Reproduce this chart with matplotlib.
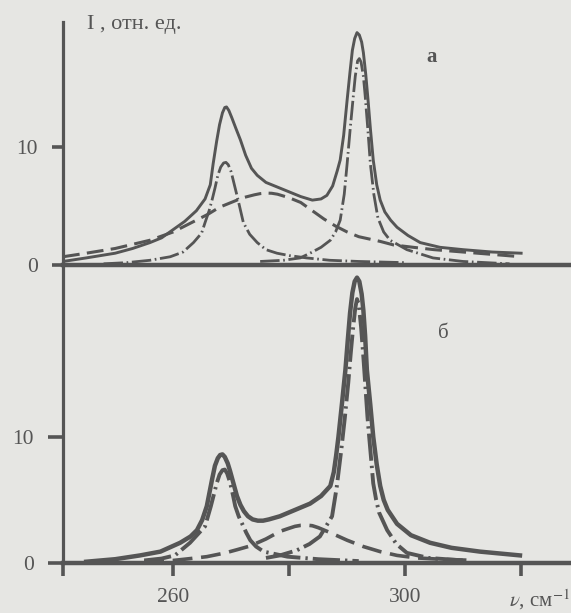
import matplotlib
matplotlib.use("Agg")
import matplotlib.pyplot as plt

plt.rcParams['font.family'] = ['Liberation Serif', 'DejaVu Serif']
plt.rcParams['mathtext.fontset'] = 'stix'

PAPER = '#e6e6e3'
INK = '#555555'

# ---------------- panel "а" ----------------
a_sum_x = [241.0, 245, 250, 253, 256, 258, 260, 262, 264, 265.5, 266.4, 266.9, 267.5,
           268.0, 268.5, 268.9, 269.2, 269.6, 270.1, 270.8, 271.6, 272.5, 273.5,
           274.5, 276, 278, 280, 282, 284, 285.5, 286.5, 287.5, 288.3, 288.8, 289.4,
           290, 290.5, 290.9, 291.3, 291.7, 292.1, 292.5, 292.8, 293.2, 293.6, 294.0,
           294.5, 295.1, 295.7, 296.5, 297.5, 298.6, 300.5, 302.6, 306, 310, 315, 320]
a_sum_y = [0.3, 0.6, 1.0, 1.4, 1.9, 2.3, 3.0, 3.7, 4.6, 5.6, 6.8, 8.6, 10.5,
           11.9, 12.9, 13.35, 13.4, 13.1, 12.5, 11.6, 10.6, 9.3, 8.2,
           7.6, 7.0, 6.6, 6.2, 5.8, 5.5, 5.6, 5.9, 6.7, 8.0, 8.9, 11.0,
           14.0, 16.4, 18.2, 19.2, 19.7, 19.5, 18.9, 18.0, 16.2, 14.0, 11.6,
           8.9, 6.8, 5.5, 4.5, 3.8, 3.2, 2.5, 1.9, 1.5, 1.3, 1.1, 1.0]

a_broad_x = [241.0, 245, 250, 253, 256, 258, 260, 262, 264, 266, 268, 270, 272, 274,
             275, 276, 277, 278, 280, 282, 284, 286, 288, 290, 292, 295.7, 298, 301.4,
             305, 310, 315, 320]
a_broad_y = [0.7, 1.0, 1.4, 1.75, 2.1, 2.45, 2.8, 3.3, 3.8, 4.3, 4.9, 5.3, 5.7, 5.95,
             6.05, 6.1, 6.08, 6.0, 5.7, 5.3, 4.6, 3.9, 3.3, 2.8, 2.4, 2.0, 1.7, 1.5,
             1.3, 1.1, 0.9, 0.7]

a_p1_x = [248, 252, 256, 259.5, 261.7, 263.5, 264.9, 265.5, 266.2, 266.7, 267.2,
          267.7, 268.2, 268.7, 269.1, 269.5, 270.0, 270.5, 271.2, 272.1, 273.2,
          274.5, 276, 277.9, 280, 283, 287, 292, 300]
a_p1_y = [0.1, 0.2, 0.4, 0.7, 1.1, 1.9, 2.7, 3.6, 4.6, 5.5, 6.5,
          7.6, 8.3, 8.65, 8.7, 8.5, 7.9, 6.9, 5.5, 3.6, 2.6,
          1.9, 1.3, 1.0, 0.8, 0.6, 0.4, 0.3, 0.2]

a_p2_x = [275, 279, 281.9, 283.6, 285.5, 287.1, 288, 288.8, 289.5, 290, 290.5, 291,
          291.4, 291.8, 292.1, 292.4, 292.8, 293.1, 293.6, 294, 294.6, 295.3, 296.3,
          297.4, 300.3, 304.8, 310, 318]
a_p2_y = [0.3, 0.4, 0.6, 1.0, 1.5, 2.1, 2.8, 3.8, 6.0, 8.6, 11.4, 14.0,
          16.0, 17.3, 17.5, 17.2, 16.0, 14.4, 11.3, 8.6, 6.0, 4.0, 2.8,
          2.1, 1.3, 0.6, 0.3, 0.1]

# ---------------- panel "б" ----------------
b_sum_x = [245, 250, 254.3, 257.8, 261.2, 263, 264.1, 265, 265.8, 266.7, 267.2, 267.7,
           268.1, 268.5, 268.9, 269.4, 269.8, 270.4, 271, 271.6, 272.2, 272.9, 273.7,
           274.6, 275.5, 276.5, 278.4, 281, 283.6, 285.5, 287.1, 287.7, 288.1, 288.5,
           289.1, 289.7, 290.1, 290.5, 290.9, 291.3, 291.7, 292.1, 292.5, 292.8,
           293.1, 293.4, 294, 294.5, 295.1, 295.7, 296.3, 297, 298.6, 301, 304.3,
           308, 312.9, 319.8]
b_sum_y = [0.1, 0.3, 0.6, 0.9, 1.6, 2.1, 2.6, 3.4, 4.5, 6.6, 7.7, 8.3,
           8.55, 8.6, 8.4, 7.9, 7.3, 6.3, 5.3, 4.6, 4.1, 3.7, 3.45,
           3.35, 3.35, 3.45, 3.7, 4.2, 4.7, 5.3, 6.1, 7.2, 8.5, 10.0,
           12.6, 15.3, 17.6, 19.8, 21.4, 22.3, 22.6, 22.3, 21.3, 20.0,
           18.0, 15.3, 12.5, 10.0, 7.8, 6.1, 5.0, 4.2, 3.1, 2.2, 1.6,
           1.2, 0.9, 0.6]

b_broad_x = [255, 260, 263, 265.8, 269, 271, 273.3, 276, 278.4, 280, 281, 282, 283,
             284, 285, 287.1, 290, 292.8, 295.7, 298.6, 302, 306, 312]
b_broad_y = [0.1, 0.2, 0.35, 0.5, 0.8, 1.05, 1.35, 1.9, 2.5, 2.75, 2.9, 2.98, 3.0,
             2.95, 2.8, 2.4, 1.8, 1.3, 0.9, 0.6, 0.4, 0.3, 0.2]

b_p1_x = [255, 258, 260.3, 262.9, 264.3, 265.5, 266.5, 267, 267.5, 268, 268.5, 268.9,
          269.3, 269.8, 270.3, 270.7, 271.3, 272, 272.6, 273.3, 274.3, 275.6, 279.7,
          285, 292]
b_p1_y = [0.2, 0.35, 0.6, 1.6, 2.3, 2.9, 4.5, 5.4, 6.3, 7.0, 7.35, 7.4,
          7.1, 6.4, 5.4, 4.5, 3.7, 3.0, 2.4, 1.8, 1.3, 0.9, 0.5,
          0.3, 0.15]

b_p2_x = [276, 278.4, 281.3, 283.5, 285.3, 287.4, 288.2, 289, 289.6, 290.2, 290.6,
          291, 291.4, 291.7, 292, 292.4, 292.8, 293.1, 293.5, 293.8, 294.2, 294.5,
          295, 295.5, 296.9, 298.5, 300.3, 304, 310]
b_p2_y = [0.4, 0.6, 1.0, 1.5, 2.1, 3.7, 6.0, 9.0, 11.5, 14.3, 16.5,
          18.5, 20.2, 20.9, 20.5, 18.7, 16.3, 14.3, 11.6, 10.0, 7.9, 6.3,
          5.0, 4.0, 2.6, 1.5, 0.8, 0.4, 0.2]

x_ticks = [241.0, 260, 280, 300, 320]
x_tick_labels = ['', '260', '', '300', '']
y_ticks = [0, 10]

DASH = (0, (5.5, 2.4))
DASHDOT = (0, (7.0, 1.3, 0.6, 1.3))

fig = plt.figure(figsize=(5.71, 6.13), dpi=100, facecolor=PAPER)
ax_a = fig.add_axes([0.1103, 0.5677, 0.8897, 0.3964])
ax_b = fig.add_axes([0.1103, 0.0816, 0.8897, 0.4861])


def style_axis(ax, ytop, tick_len):
    ax.set_facecolor('none')
    ax.set_xlim(241.0, 328.6)
    ax.set_ylim(0, ytop)
    for s in ('top', 'right'):
        ax.spines[s].set_visible(False)
    ax.spines['left'].set_linewidth(2.3)
    ax.spines['bottom'].set_linewidth(3.2)
    ax.spines['left'].set_color(INK)
    ax.spines['bottom'].set_color(INK)
    ax.set_yticks(y_ticks)
    ax.tick_params(axis='y', direction='out', length=tick_len, width=2.6,
                   pad=10, labelsize=15.5, colors=INK)


style_axis(ax_a, 20.6, 8)
style_axis(ax_b, 23.6, 11)
ax_a.set_xticks([])
ax_b.set_xticks(x_ticks)
ax_b.set_xticklabels(x_tick_labels)
ax_b.tick_params(axis='x', direction='out', length=9, width=2.6, pad=9,
                 labelsize=15.5, colors=INK)

ax_a.plot(a_broad_x, a_broad_y, color=INK, lw=2.2, linestyle=DASH)
ax_a.plot(a_p1_x, a_p1_y, color=INK, lw=2.0, linestyle=DASHDOT)
ax_a.plot(a_p2_x, a_p2_y, color=INK, lw=2.0, linestyle=DASHDOT)
ax_a.plot(a_sum_x, a_sum_y, color=INK, lw=2.1, solid_joinstyle='round')

ax_b.plot(b_broad_x, b_broad_y, color=INK, lw=2.6, linestyle=DASH)
ax_b.plot(b_p1_x, b_p1_y, color=INK, lw=2.8, linestyle=DASHDOT)
ax_b.plot(b_p2_x, b_p2_y, color=INK, lw=2.8, linestyle=DASHDOT)
ax_b.plot(b_sum_x, b_sum_y, color=INK, lw=3.2, solid_joinstyle='round')

fig.text(87 / 571, 1 - 25 / 613, 'I , отн. ед.', ha='left', va='center',
         fontsize=16, color=INK)
fig.text(432 / 571, 1 - 57 / 613, 'а', ha='center', va='center',
         fontsize=15, color=INK, fontweight='bold')
fig.text(443 / 571, 1 - 333 / 613, 'б', ha='center', va='center',
         fontsize=15, color=INK)
fig.text(570 / 571, 1 - 600 / 613, r'$\nu$, см$^{-1}$', ha='right', va='center',
         fontsize=15, color=INK)

fig.savefig('out.png', dpi=100, facecolor=PAPER)
